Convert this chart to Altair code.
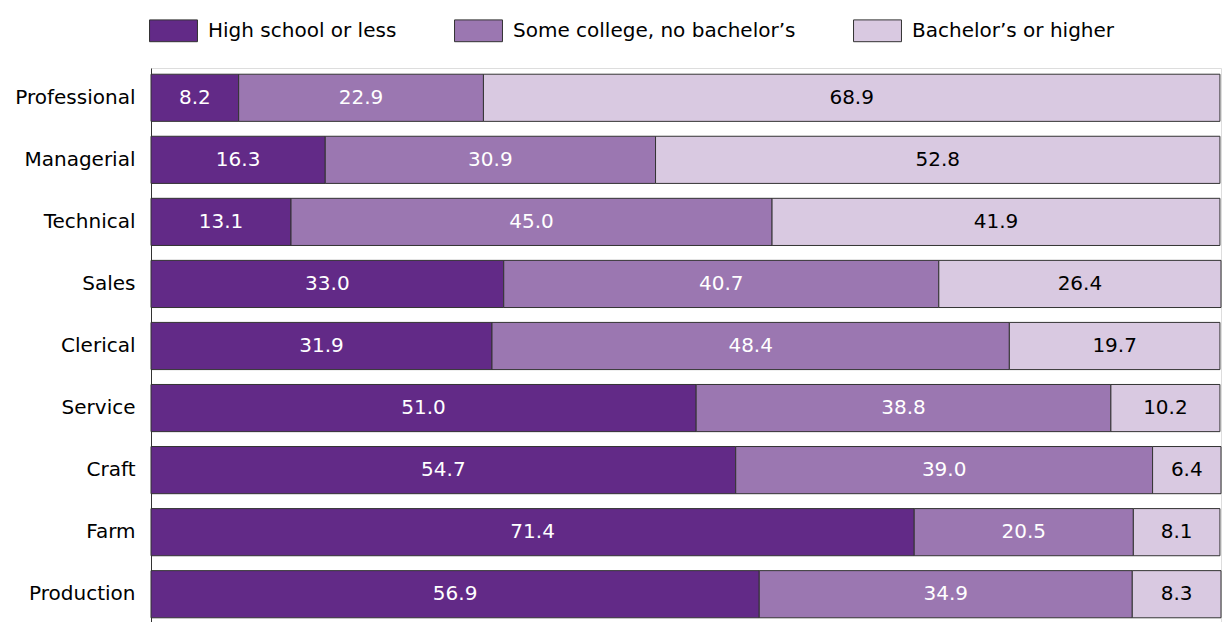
import altair as alt
import pandas as pd

occupations = ["Professional", "Managerial", "Technical", "Sales", "Clerical",
               "Service", "Craft", "Farm", "Production"]
levels = ["High school or less", "Some college, no bachelor\u2019s", "Bachelor\u2019s or higher"]
high_school = [8.2, 16.3, 13.1, 33.0, 31.9, 51.0, 54.7, 71.4, 56.9]
some_college = [22.9, 30.9, 45.0, 40.7, 48.4, 38.8, 39.0, 20.5, 34.9]
bachelors = [68.9, 52.8, 41.9, 26.4, 19.7, 10.2, 6.4, 8.1, 8.3]
colors = ["#622a87", "#9b77b1", "#d9c9e1"]
text_colors = ["white", "white", "black"]

rows = []
for i, occ in enumerate(occupations):
    start = 0.0
    for j, vals in enumerate([high_school, some_college, bachelors]):
        v = vals[i]
        rows.append({"occupation": occ, "level": levels[j], "order": j,
                     "value": v, "start": start, "end": start + v,
                     "mid": start + v / 2, "label": f"{v:.1f}",
                     "tcolor": text_colors[j]})
        start += v
df = pd.DataFrame(rows)

FONT = "DejaVu Sans"

y_enc = alt.Y("occupation:N", sort=occupations, title=None,
              scale=alt.Scale(paddingInner=0.24, paddingOuter=0.1),
              axis=alt.Axis(labelFontSize=20, labelFont=FONT, labelColor="black",
                            labelPadding=16, ticks=False, domainColor="#333",
                            domainWidth=1))

x_scale = alt.Scale(domain=[0, df.groupby("occupation")["end"].max().max()], nice=False, zero=True)

bars = alt.Chart(df).mark_bar(stroke="#333", strokeWidth=1, opacity=1).encode(
    y=y_enc,
    x=alt.X("start:Q", scale=x_scale, axis=None),
    x2="end:Q",
    color=alt.Color("level:N", sort=levels,
                    scale=alt.Scale(domain=levels, range=colors),
                    legend=alt.Legend(title=None, orient="none", legendX=0, legendY=-60,
                                      direction="horizontal",
                                      symbolType="M-1.1,-0.5H1.1V0.5H-1.1Z",
                                      symbolSize=1900, symbolStrokeColor="#333",
                                      symbolStrokeWidth=1, symbolOpacity=1,
                                      labelFontSize=20, labelFont=FONT, labelColor="black",
                                      labelOffset=12, columnPadding=55, labelLimit=400)),
)

labels = alt.Chart(df).mark_text(fontSize=20, font=FONT, baseline="middle", align="center").encode(
    y=alt.Y("occupation:N", sort=occupations),
    x=alt.X("mid:Q", scale=x_scale),
    text="label:N",
    color=alt.Color("tcolor:N", scale=None),
)

chart = alt.layer(bars, labels).properties(
    width=1070, height=556,
    autosize=alt.AutoSizeParams(type="none"),
    padding={"left": 151, "top": 68, "right": 4, "bottom": 0},
).configure_view(stroke=None).configure(background="white")

chart.save("out.html", embed_options={"renderer": "svg", "actions": False})
